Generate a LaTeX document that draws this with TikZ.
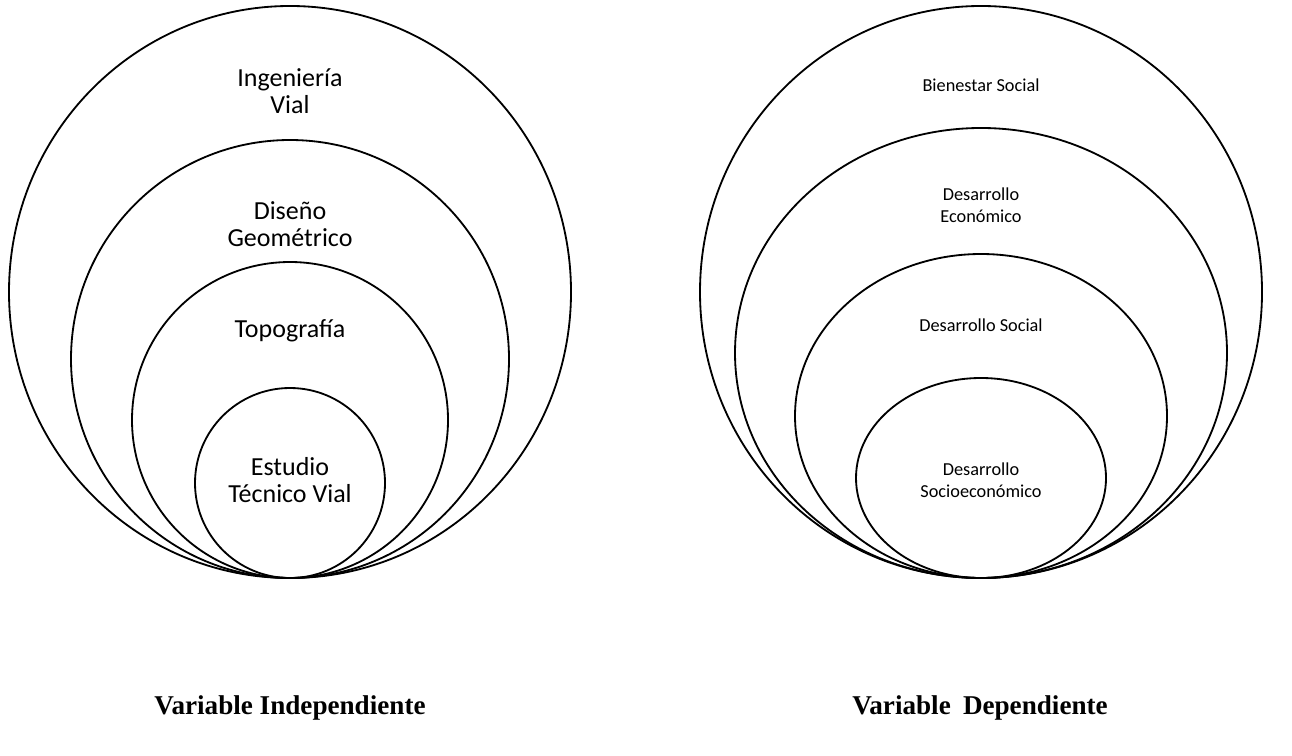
\documentclass[tikz,border=0pt]{standalone}
\usepackage{fontspec}
\setmainfont{Carlito}
\newfontfamily\timesbf{Liberation Serif}
\usetikzlibrary{positioning}

\begin{document}
\begin{tikzpicture}[x=0.025cm, y=-0.025cm,
  ring/.style={draw=black, line width=1.3pt},
  lbl/.style={align=center, font=\fontsize{18.5}{19.5}\selectfont},
  lblsm/.style={align=center, font=\fontsize{13}{15.5}\selectfont},
  var/.style={font=\timesbf\bfseries\fontsize{19.3}{22}\selectfont}
]
\useasboundingbox (0,0) rectangle (1292,755);
% variable independiente
\draw[ring] (290,292) ellipse [x radius=281, y radius=286];
\draw[ring] (290,359) circle (219);
\draw[ring] (290,420) circle (158);
\draw[ring] (290,483) circle (95);
\node[lbl] (ing)  at (290,91)  {Ingeniería\\Vial};
\node[lbl] (dis)  at (290,224) {Diseño\\Geométrico};
\node[lbl] (topo) at (290,331) {Topografía};
\node[lbl] (est)  at (290,480) {Estudio\\Técnico Vial};
% variable dependiente
\draw[ring] (981,292) ellipse [x radius=281, y radius=286];
\draw[ring] (981,353) ellipse [x radius=246, y radius=225];
\draw[ring] (981,416) ellipse [x radius=186, y radius=162];
\draw[ring] (981,478) ellipse [x radius=125, y radius=100];
\node[lblsm] (bien)  at (981,85)  {Bienestar Social};
\node[lblsm] (deco)  at (981,205) {Desarrollo\\Económico};
\node[lblsm] (dsoc)  at (981,325) {Desarrollo Social};
\node[lblsm] (dsec)  at (981,480) {Desarrollo\\Socioeconómico};
% titulos
\node[var] (vind) at (290,708) {Variable Independiente};
\node[var] (vdep) at (980,708) {Variable\hspace{0.45em}Dependiente};
\end{tikzpicture}
\end{document}
